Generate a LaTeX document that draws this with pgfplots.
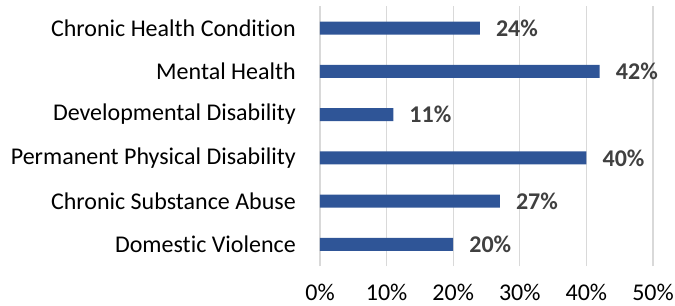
\documentclass[border=0pt]{standalone}
\usepackage{pgfplots}
\pgfplotsset{compat=1.18}
\usepackage{fontspec}
\setmainfont[Ligatures={NoCommon,NoDiscretionary,NoContextual}]{Carlito}
\definecolor{barblue}{HTML}{2F5597}
\definecolor{lblgray}{HTML}{404040}
\definecolor{gridgray}{HTML}{D9D9D9}
\begin{document}
\begin{tikzpicture}
\begin{axis}[
  scale only axis,
  width=333bp, height=259.6bp,
  xmin=0, xmax=50,
  ymin=-0.5, ymax=5.5,
  xbar, bar width=13bp,
  axis line style={draw=none},
  major tick length=0pt,
  xmajorgrids, grid style={gridgray, line width=1.2bp},
  xtick={0,10,20,30,40,50},
  xticklabel={\pgfmathprintnumber{\tick}\%},
  /pgf/number format/assume math mode=true,
  xticklabel style={font=\fontsize{24bp}{28bp}\selectfont, text=black, anchor=north, inner sep=0pt, yshift=-18bp},
  ytick={0,1,2,3,4,5},
  yticklabels={Domestic Violence\hspace{6bp}, Chronic Substance Abuse, Permanent Physical Disability, Developmental Disability, Mental Health, Chronic Health Condition},
  yticklabel style={font=\fontsize{24bp}{28bp}\selectfont, text=black, anchor=east, inner sep=0pt, xshift=-24bp},
  nodes near coords={\pgfmathprintnumber{\pgfplotspointmeta}\%},
  nodes near coords style={font=\fontsize{24bp}{28bp}\selectfont\bfseries, text=lblgray, anchor=west, inner sep=0pt, xshift=16bp},
  point meta=x,
]
\addplot[fill=barblue, draw=none] coordinates {(20,0) (27,1) (40,2) (11,3) (42,4) (24,5)};
\end{axis}
\pgfresetboundingbox
\path (-320bp,-40bp) rectangle (355bp,266bp);
\end{tikzpicture}
\end{document}
